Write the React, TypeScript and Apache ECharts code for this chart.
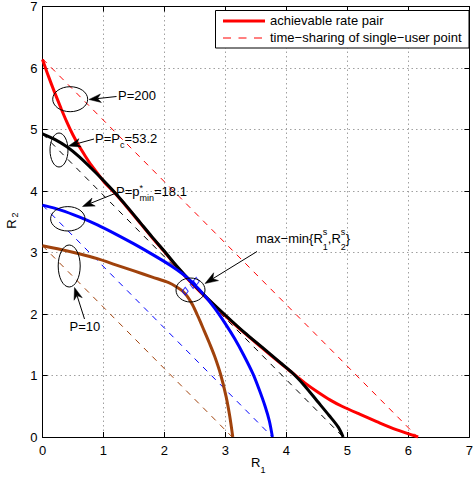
import React, { useEffect, useRef } from "react";
import * as echarts from "echarts";

// ---------- data ----------
const tickValues = [0, 1, 2, 3, 4, 5, 6, 7];

// achievable rate pair boundaries (R1, R2)
const rateP200: [number, number][] = [
  [0, 6.14], [0.1, 5.86], [0.2, 5.6], [0.31, 5.33], [0.4, 5.12], [0.5, 4.91],
  [0.6, 4.73], [0.7, 4.57], [0.8, 4.42], [0.9, 4.29], [1.0, 4.16], [1.2, 3.95],
  [1.4, 3.72], [1.6, 3.48], [1.8, 3.24], [2.0, 3.01], [2.2, 2.77], [2.44, 2.51],
  [2.7, 2.25], [3.0, 1.97], [3.3, 1.7], [3.6, 1.45], [3.9, 1.2], [4.1, 1.04],
  [4.3, 0.88], [4.5, 0.74], [4.72, 0.6], [4.91, 0.5], [5.2, 0.37], [5.48, 0.25],
  [5.8, 0.12], [6.16, 0],
];
const rateP53: [number, number][] = [
  [0, 4.93], [0.2, 4.84], [0.4, 4.72], [0.6, 4.56], [0.8, 4.37], [1.0, 4.17],
  [1.2, 3.96], [1.4, 3.73], [1.6, 3.49], [1.8, 3.25], [2.0, 3.02], [2.2, 2.78],
  [2.44, 2.52], [2.7, 2.26], [3.0, 1.98], [3.3, 1.71], [3.6, 1.46], [3.9, 1.21],
  [4.1, 1.04], [4.3, 0.83], [4.5, 0.59], [4.7, 0.35], [4.85, 0.16], [4.93, 0],
];
const rateP18: [number, number][] = [
  [0, 3.77], [0.3, 3.69], [0.6, 3.58], [0.9, 3.45], [1.2, 3.3], [1.5, 3.14],
  [1.8, 2.97], [2.1, 2.79], [2.3, 2.65], [2.47, 2.5], [2.65, 2.31], [2.82, 2.1],
  [3.0, 1.84], [3.15, 1.6], [3.3, 1.33], [3.45, 1.03], [3.55, 0.78], [3.65, 0.5],
  [3.72, 0.26], [3.77, 0],
];
const rateP10: [number, number][] = [
  [0, 3.11], [0.3, 3.05], [0.6, 2.98], [0.9, 2.9], [1.2, 2.8], [1.5, 2.7],
  [1.8, 2.6], [2.07, 2.51], [2.2, 2.44], [2.3, 2.37], [2.38, 2.28], [2.46, 2.15],
  [2.55, 1.96], [2.65, 1.73], [2.74, 1.52], [2.82, 1.32], [2.92, 1.02], [3.01, 0.66],
  [3.07, 0.34], [3.12, 0],
];

// time-sharing of single-user points
const tsP200: [number, number][] = [[0, 6.15], [6.15, 0]];
const tsP53: [number, number][] = [[0, 4.93], [4.93, 0]];
const tsP18: [number, number][] = [[0, 3.77], [3.77, 0]];
const tsP10: [number, number][] = [[0, 3.11], [3.11, 0]];

// max-min points
const maxMinPoints: [number, number][] = [[2.34, 2.37], [2.47, 2.48], [2.52, 2.53]];

const legendNames = ["achievable rate pair", "time\u2212sharing of single\u2212user point"];

// ---------- styling ----------
const FONT = "'Liberation Sans', Arial, Helvetica, sans-serif";
const RED = "#ff0000";
const BLACK = "#000000";
const BLUE = "#0000ff";
const BROWN = "#a0420c";

let measureCtx: CanvasRenderingContext2D | null = null;
function tw(s: string, size: number): number {
  if (!measureCtx) measureCtx = document.createElement("canvas").getContext("2d");
  measureCtx!.font = `${size}px ${FONT}`;
  return measureCtx!.measureText(s).width;
}

function txt(s: string, x: number, y: number, size = 13, rotation = 0, align = "left") {
  return {
    type: "text",
    z: 100,
    x,
    y,
    rotation,
    silent: true,
    style: {
      text: s,
      font: `${size}px ${FONT}`,
      fill: "#000",
      align,
      verticalAlign: "middle",
      textAlign: align,
      textVerticalAlign: "middle",
    },
  };
}

type Piece = { t: string; size?: number; dy?: number; stackWith?: Piece };
function label(pieces: Piece[], x0: number, y0: number) {
  const els: any[] = [];
  let x = x0;
  for (const p of pieces) {
    const size = p.size ?? 13;
    els.push(txt(p.t, x, y0 + (p.dy ?? 0), size));
    let w = tw(p.t, size);
    if (p.stackWith) {
      const s = p.stackWith;
      const ss = s.size ?? 13;
      els.push(txt(s.t, x, y0 + (s.dy ?? 0), ss));
      w = Math.max(w, tw(s.t, ss));
    }
    x += w;
  }
  return els;
}

function arrow(sx: number, sy: number, tx: number, ty: number, L = 12, W = 4.3, notch = 3.5) {
  const dx = tx - sx, dy = ty - sy;
  const d = Math.hypot(dx, dy);
  const ux = dx / d, uy = dy / d;
  const nx = -uy, ny = ux;
  const bx = tx - ux * L, by = ty - uy * L;
  const mx = tx - ux * (L - notch), my = ty - uy * (L - notch);
  return [
    { type: "line", z: 100, silent: true, shape: { x1: sx, y1: sy, x2: mx, y2: my }, style: { stroke: "#000", lineWidth: 1 } },
    {
      type: "polygon", z: 100, silent: true,
      shape: { points: [[tx, ty], [bx + nx * W, by + ny * W], [mx, my], [bx - nx * W, by - ny * W]] },
      style: { fill: "#000", stroke: "#000", lineWidth: 0.5 },
    },
  ];
}

function ellipse(cx: number, cy: number, rx: number, ry: number) {
  return { type: "ellipse", z: 100, silent: true, shape: { cx, cy, rx, ry }, style: { fill: "none", stroke: "#000", lineWidth: 1 } };
}

const solid = (data: [number, number][], color: string, name?: string) => ({
  type: "line", name, data, symbol: "none", showSymbol: false, smooth: 0.3,
  lineStyle: { color, width: 3 }, itemStyle: { color }, z: 3,
});
const dashed = (data: [number, number][], color: string, name?: string) => ({
  type: "line", name, data, symbol: "none", showSymbol: false,
  lineStyle: { color, width: 1, type: [6, 6] }, itemStyle: { color }, z: 2,
});

export default function App() {
  const ref = useRef<HTMLDivElement>(null);
  useEffect(() => {
    if (!ref.current) return;
    const chart = echarts.init(ref.current, null, { renderer: "svg" });

    const axisCommon = {
      type: "value", min: 0, max: 7, interval: 1,
      axisLine: { show: true, onZero: false, lineStyle: { color: "#000", width: 1 } },
      axisTick: { show: true, inside: true, length: 5, lineStyle: { color: "#000", width: 1 } },
    };
    const grid = { color: "#a0a0a0", width: 1, type: [1.5, 3] };

    const graphics: any[] = [
      // legend
      { type: "rect", z: 110, shape: { x: 215.5, y: 10.5, width: 253.5, height: 37.5 }, style: { fill: "#fff", stroke: "#000", lineWidth: 1 } },
      { type: "line", z: 111, shape: { x1: 223, y1: 21, x2: 265, y2: 21 }, style: { stroke: RED, lineWidth: 3 } },
      { type: "line", z: 111, shape: { x1: 223, y1: 38, x2: 265, y2: 38 }, style: { stroke: RED, lineWidth: 1, lineDash: [8, 7.5] } },
      { ...txt(legendNames[0], 270, 20.8), z: 111 },
      { ...txt(legendNames[1], 270, 37.8), z: 111 },

      // annotations
      ellipse(70.2, 99.2, 17.5, 12.5),
      ...arrow(116.5, 96.5, 89, 99.5),
      ...label([{ t: "P=200" }], 118, 95.5),

      ellipse(59, 150, 9, 17),
      ...arrow(94, 139, 68.5, 146),
      ...label([{ t: "P=P" }, { t: "c", size: 9, dy: 7 }, { t: "=53.2" }], 95, 138),

      ellipse(67.8, 218.8, 17.2, 12.2),
      ...arrow(115, 193.5, 82.5, 206.5),
      ...label([{ t: "P=p" }, { t: "min", size: 9, dy: 7, stackWith: { t: "*", size: 9, dy: -3 } }, { t: "=18.1" }], 116, 191),

      ellipse(69.2, 266, 11, 21),
      ...arrow(84.5, 319, 74.5, 287.5),
      ...label([{ t: "P=10" }], 69.5, 326),

      ellipse(190.5, 290, 14.5, 12),
      ...arrow(257, 251.5, 205, 283.5, 13, 4.6, 3.8),
      ...label([
        { t: "max\u2212min{R" },
        { t: "1", size: 9, dy: 8.2, stackWith: { t: "s", size: 9, dy: -7 } },
        { t: ",R" },
        { t: "2", size: 9, dy: 8.2, stackWith: { t: "s", size: 9, dy: -7 } },
        { t: "}" },
      ], 256, 238.8),

      // axis names
      ...label([{ t: "R" }, { t: "1", size: 9, dy: 8 }], 251, 462),
      txt("R", 11.7, 224, 13, Math.PI / 2, "center"),
      txt("2", 15.2, 215, 9, Math.PI / 2, "center"),
    ];

    chart.setOption({
      animation: false,
      backgroundColor: "#fff",
      grid: { left: 42.5, right: 2, top: 3.5, bottom: 41, containLabel: false },
      xAxis: [
        {
          ...axisCommon, position: "bottom",
          axisLabel: {
            color: "#000", fontSize: 13, fontFamily: FONT, margin: 7,
            formatter: (v: number) => (tickValues.includes(v) ? String(v) : ""),
          },
          splitLine: { show: true, lineStyle: grid },
        },
        { ...axisCommon, position: "top", axisLabel: { show: false }, splitLine: { show: false } },
      ],
      yAxis: [
        {
          ...axisCommon, position: "left",
          axisLabel: {
            color: "#000", fontSize: 13, fontFamily: FONT, margin: 5,
            formatter: (v: number) => (tickValues.includes(v) ? String(v) : ""),
          },
          splitLine: { show: true, lineStyle: grid },
        },
        { ...axisCommon, position: "right", axisLabel: { show: false }, splitLine: { show: false } },
      ],
      series: [
        dashed(tsP200, RED, legendNames[1]),
        dashed(tsP53, BLACK),
        dashed(tsP18, BLUE),
        dashed(tsP10, BROWN),
        solid(rateP200, RED, legendNames[0]),
        solid(rateP53, BLACK),
        solid(rateP18, BLUE),
        solid(rateP10, BROWN),
        {
          type: "scatter", data: maxMinPoints, symbol: "diamond", symbolSize: [6, 8], z: 5,
          itemStyle: { color: "rgba(0,0,0,0)", borderColor: BLUE, borderWidth: 1 },
        },
      ],
      graphic: graphics,
    });
    return () => chart.dispose();
  }, []);

  return (
    <div
      ref={ref}
      style={{ position: "fixed", left: 0, top: 0, width: 476, height: 478, background: "#fff" }}
    />
  );
}
